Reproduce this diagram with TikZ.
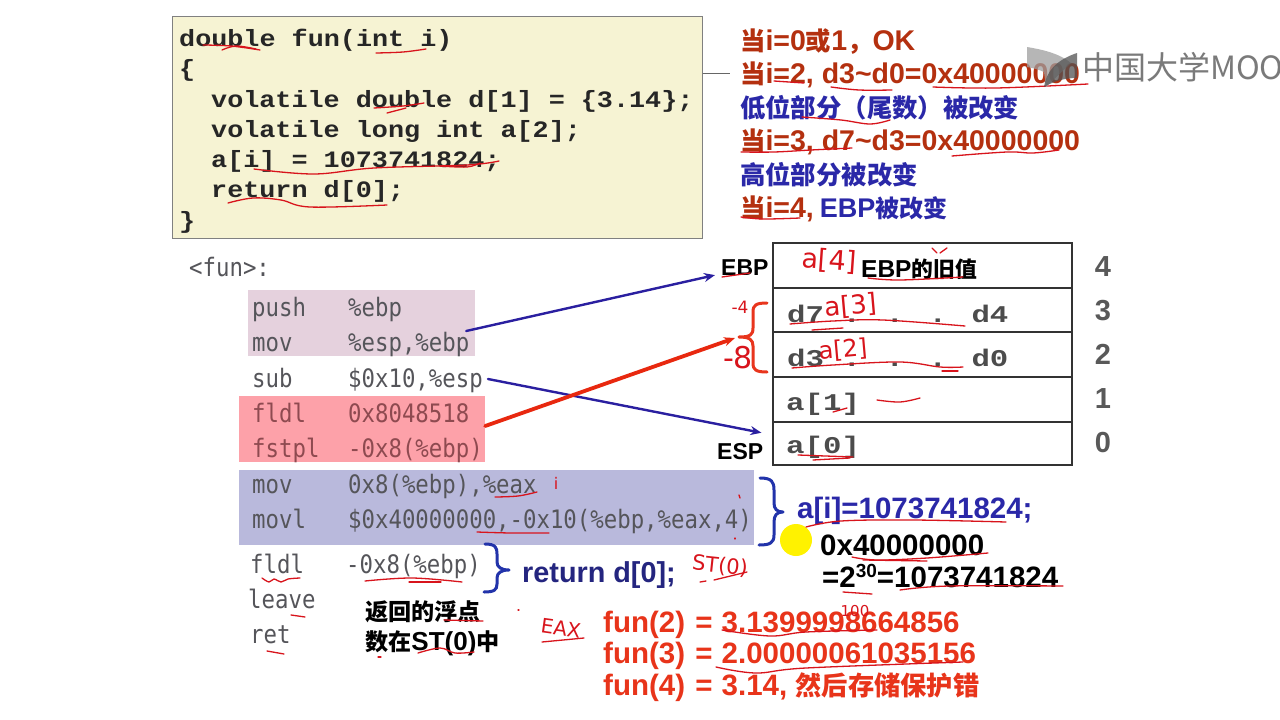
\documentclass[tikz,border=0pt]{standalone}
\usepackage{fontspec}
\usetikzlibrary{calc,arrows.meta}
\setmainfont{Liberation Sans}
\newfontfamily\cjk[Scale=0.89]{Noto Sans CJK SC}
\newfontfamily\logofont{Noto Sans CJK SC}
\newfontfamily\codefont[FakeStretch=1.14]{Liberation Mono}
\newfontfamily\cellfont[FakeStretch=1.28]{Liberation Mono}
\newfontfamily\asmfont[FakeStretch=0.88]{DejaVu Sans Mono}
\newfontfamily\handfont{DejaVu Sans}
\newcommand\fs[1]{\fontsize{#1}{#1}\selectfont}
\newcommand\C[1]{{\cjk #1}}
\newcommand\hwline[1]{\draw[hw] plot[smooth,tension=0.6] coordinates {#1};}
\definecolor{ink}{HTML}{D8141C}
\definecolor{dkred}{HTML}{B4300F}
\definecolor{dkblue}{HTML}{2A28A8}
\definecolor{navy}{HTML}{24257F}
\definecolor{brred}{HTML}{E8341A}
\definecolor{asmgray}{HTML}{55555A}
\definecolor{asmredtext}{HTML}{8E4A50}
\definecolor{codefill}{HTML}{F6F3D3}
\definecolor{boxpink}{HTML}{E5D1DD}
\definecolor{boxred}{HTML}{FDA1A9}
\definecolor{boxblue}{HTML}{B9B9DC}
\definecolor{arrowblue}{HTML}{2A1FA0}
\definecolor{arrowred}{HTML}{E8280F}
\definecolor{bracered}{HTML}{E8351D}
\definecolor{braceblue}{HTML}{2233AA}
\tikzset{
  txt/.style={inner sep=0pt,anchor=base west},
  codeline/.style={txt,font=\codefont\bfseries\fs{23.5},text=black!85},
  asm/.style={txt,font=\asmfont\fs{25.4},text=asmgray},
  asmred/.style={asm,text=asmredtext},
  cell/.style={txt,font=\cellfont\bfseries\fs{24},text=black!70},
  rownum/.style={inner sep=0pt,anchor=base,font=\bfseries\fs{29},text=black!65},
  redline/.style={txt,font=\bfseries\fs{28.5},text=dkred},
  blueline/.style={txt,font=\bfseries\fs{28.5},text=dkblue},
  funline/.style={txt,font=\bfseries\fs{29.5},text=brred},
  blackline/.style={txt,font=\bfseries\fs{29.5},text=black},
  label/.style={txt,font=\bfseries\fs{23},text=black},
  note/.style={inner sep=0pt,font=\handfont\fs{24},text=ink},
  stackrow/.style={draw=black!80,line width=2.4pt,minimum width=299pt,inner sep=0pt},
  hw/.style={draw=ink,line width=1.3pt,line cap=round,line join=round},
  brace/.style={line width=3pt,line cap=round,line join=round},
  conn/.style={-{Stealth[length=11pt,width=9pt]},line cap=round},
}
\begin{document}
\begin{tikzpicture}[x=1pt,y=-1pt]
\useasboundingbox (0,0) rectangle (1280,720);
\fill[white] (0,0) rectangle (1280,720);

% code box
\node[draw=black!50,fill=codefill,line width=1pt,minimum width=530pt,minimum height=222pt,inner sep=0pt] (codebox) at (437,127) {};
\coordinate (codetick) at (730,73);
\draw[black!60,line width=1pt] (codebox.east |- codetick) -- (codetick);
\node[codeline] (c1) at (179,46) {double fun(int i)};
\node[codeline] (c2) at (179,76.5) {\{};
\node[codeline] (c3) at (211,107) {volatile double d[1] = \{3.14\};};
\node[codeline] (c4) at (211,137) {volatile long int a[2];};
\node[codeline] (c5) at (211,167) {a[i] = 1073741824;};
\node[codeline] (c6) at (211,197.5) {return d[0];};
\node[codeline] (c7) at (179,228) {\}};

% right notes
\node[redline] (n1) at (740,50) {\C{当}i=0\C{或}1\C{，}OK};
\node[redline] (n2) at (740,83) {\C{当}i=2, d3\textasciitilde d0=0x40000000};
\node[blueline] (n3) at (740,117) {\C{低位部分（尾数）被改变}};
\node[redline] (n4) at (740,150) {\C{当}i=3, d7\textasciitilde d3=0x40000000};
\node[blueline] (n5) at (740,184) {\C{高位部分被改变}};
\node[redline] (n6) at (740,217) {\C{当}i=4,\hspace{-2pt} {\fs{27}\textcolor{dkblue}{EBP\C{被改变}}}};

% assembly boxes
\node[fill=boxpink,minimum width=227pt,minimum height=66pt,inner sep=0pt] (pinkbox) at (361.5,323) {};
\node[fill=boxred,minimum width=246pt,minimum height=66pt,inner sep=0pt] (redbox) at (362,429) {};
\node[fill=boxblue,minimum width=515pt,minimum height=75pt,inner sep=0pt] (bluebox) at (496.5,507.5) {};

% assembly
\node[asm] (fun) at (189,276) {<fun>:};
\node[asm] (a1) at (252,316) {push};  \node[asm] (a1b) at (348,316) {\%ebp};
\node[asm] (a2) at (252,351.5) {mov};   \node[asm] (a2b) at (348,351.5) {\%esp,\%ebp};
\node[asm] (a3) at (252,387) {sub};   \node[asm] (a3b) at (348,387) {\$0x10,\%esp};
\node[asmred] (a4) at (252,422) {fldl};  \node[asmred] (a4b) at (348,422) {0x8048518};
\node[asmred] (a5) at (252,457) {fstpl}; \node[asmred] (a5b) at (348,457) {-0x8(\%ebp)};
\node[asm] (a6) at (252,493) {mov};   \node[asm] (a6b) at (348,493) {0x8(\%ebp),\%eax};
\node[asm] (a7) at (252,528) {movl};  \node[asm] (a7b) at (348,528) {\$0x40000000,-0x10(\%ebp,\%eax,4)};
\node[asm] (a8) at (250,573) {fldl};  \node[asm] (a8b) at (346,573) {-0x8(\%ebp)};
\node[asm] (a9) at (248,608) {leave};
\node[asm] (a10) at (250,643) {ret};

% stack table
\node[stackrow,minimum height=45pt] (row4) at (922.5,265.5) {};
\node[stackrow,minimum height=44pt] (row3) at (922.5,310) {};
\node[stackrow,minimum height=45pt] (row2) at (922.5,354.5) {};
\node[stackrow,minimum height=45pt] (row1) at (922.5,399.5) {};
\node[stackrow,minimum height=43pt] (row0) at (922.5,443.5) {};
\node[txt,font=\bfseries\fs{24.5},text=black] (oldebp) at (861,277) {EBP\C{的旧值}};
\node[cell] (d7) at (787,322) {d7 . . . d4};
\node[cell] (d3) at (787,366) {d3 . . . d0};
\node[cell] (a1c) at (786,410) {a[1]};
\node[cell] (a0c) at (786,453) {a[0]};
\node[rownum] (r4) at (1103,276) {4};
\node[rownum] (r3) at (1103,320) {3};
\node[rownum] (r2) at (1103,364) {2};
\node[rownum] (r1) at (1103,408) {1};
\node[rownum] (r0) at (1103,452) {0};
\node[label] (ebp) at (721,275) {EBP};
\node[label] (esp) at (717,459) {ESP};

% braces
\draw[brace,bracered] (767,303) .. controls (756,303) and (753,305) .. (753,312) -- (753,328) .. controls (753,335) and (750,337) .. (739,337) .. controls (750,337) and (753,340) .. (753,346) -- (753,363) .. controls (753,370) and (756,372) .. (767,372);
\draw[brace,braceblue] (760,478) .. controls (772,478) and (774,482) .. (774,490) -- (774,503) .. controls (774,509) and (777,512) .. (783,512) .. controls (777,512) and (774,515) .. (774,522) -- (774,535) .. controls (774,543) and (770,545) .. (759,545);
\draw[brace,braceblue] (485,544) .. controls (496,544) and (497,548) .. (497,554) -- (497,562) .. controls (497,567) and (501,570) .. (509,570) .. controls (501,570) and (497,573) .. (497,578) -- (497,584) .. controls (497,590) and (494,592) .. (484,592);
\coordinate (bracetip) at (735,338);

% connectors
\draw[conn,arrowblue,line width=2.4pt] ($(pinkbox.east)+(-9,8)$) -- ($(ebp.west)+(-6,8)$);
\draw[conn,arrowblue,line width=2.4pt] ($(a3b.east)+(5,-1)$) -- ($(esp.north east)+(-2,-10)$);
\draw[conn,arrowred,line width=3.8pt] ($(redbox.east)+(0,-3)$) -- (bracetip);

% lower texts
\node[blueline,font=\bfseries\fs{29.5}] (aieq) at (797,518) {a[i]=1073741824;};
\node[fill=yellow,circle,minimum size=32pt,inner sep=0pt] (pointer) at (796,540) {};
\node[blackline] (hex) at (820,555) {0x40000000};
\node[txt,font=\bfseries\fs{29.5},text=black] (pow) at (822,587) {=2\raisebox{10pt}{\fs{19}30}=1073741824};
\node[txt,font=\bfseries\fs{28.8},text=navy] (retd) at (522,582) {return d[0];};
\node[txt,font=\bfseries\fs{26},text=black] (st1) at (365,620) {\C{返回的浮点}};
\node[txt,font=\bfseries\fs{26},text=black] (st2) at (365,650) {\C{数在}ST(0)\C{中}};
\node[funline] (f2) at (603,632) {fun(2)\hspace{2pt} = \hspace{1pt}3.1399998664856};
\node[funline] (f3) at (603,663) {fun(3)\hspace{2pt} = \hspace{1pt}2.00000061035156};
\node[funline] (f4) at (603,695) {fun(4)\hspace{2pt} = \hspace{1pt}3.14, {\cjk\fs{29.5}然后存储保护错}};

% handwritten annotations
\node[note,rotate=-4,font=\handfont\fs{27}] (h4) at (829,261) {a[4]};
\node[note,rotate=5,font=\handfont\fs{26}] (h3) at (851,306) {a[3]};
\node[note,rotate=5,font=\handfont\fs{24}] (h2) at (843,350) {a[2]};
\node[note,font=\handfont\fs{17}] (hm4) at (740,307) {-4};
\node[note,font=\handfont\fs{30}] (hm8) at (738,358) {-8};
\node[note,font=\handfont\fs{16}] (hi) at (556,483) {i};
\node[note,rotate=-6,font=\handfont\fs{21}] (hst) at (720,566) {ST(0)};
\node[note,rotate=-8,font=\handfont\fs{20}] (heax) at (561,628) {EAX};
\node[note,font=\handfont\fs{15}] (h100) at (855,611) {100};

\hwline{(203,45)(231,46)(260,50)}
\hwline{(222,50)(236,46)(256,49)}
\hwline{(376,53)(403,52)(426,49)}
\hwline{(374,108)(403,106)(424,103)}
\hwline{(387,113)(406,108)}
\hwline{(254,169)(314,174)(374,168)(467,165)(499,161)}
\hwline{(440,166)(467,167)(480,163)}
\hwline{(228,203)(253,198)(281,200)(310,207)(387,205)}
\hwline{(774,81)(804,83)}
\hwline{(831,87)(859,90)(892,90)}
\hwline{(933,87)(996,88)(1088,84)}
\hwline{(802,117)(841,120)(870,124)(890,120)}
\hwline{(741,152)(774,152)(811,150)(852,148)}
\hwline{(952,156)(1007,152)(1033,153)(1059,150)}
\hwline{(741,217)(763,219)(800,218)}
\hwline{(868,278)(900,280)(963,277)}
\hwline{(932,248)(937,253)}
\hwline{(940,253)(947,248)}
\hwline{(790,324)(833,321)(883,320)(965,326)}
\hwline{(812,330)(843,328)}
\hwline{(792,368)(833,365)(900,362)(940,367)(963,367)}
\hwline{(942,371)(958,371)}
\hwline{(833,412)(847,408)}
\hwline{(877,400)(900,402)(920,398)}
\hwline{(798,455)(853,457)}
\hwline{(813,460)(850,458)}
\hwline{(722,277)(750,273)}
\hwline{(495,497)(518,496)(537,492)}
\hwline{(477,532)(511,533)(549,533)}
\hwline{(739,495)(740,498)}
\hwline{(735,538)(735,539)}
\hwline{(262,578)(269,582)(274,579)(281,582)(288,579)(300,578)}
\hwline{(365,581)(412,578)(462,582)}
\hwline{(409,582)(441,582)}
\hwline{(291,615)(305,617)}
\hwline{(267,651)(284,654)}
\hwline{(700,582)(706,581)}
\hwline{(714,580)(747,572)}
\hwline{(444,620)(483,621)}
\hwline{(418,653)(440,648)(455,653)(474,652)}
\hwline{(378,657)(381,657)}
\hwline{(518,610)(519,610)}
\hwline{(542,642)(584,638)}
\hwline{(722,630)(770,636)(806,632)(877,630)}
\hwline{(716,667)(756,673)(806,668)(963,662)}
\hwline{(806,527)(841,521)(913,520)(1006,522)}
\hwline{(852,557)(877,560)(927,558)(988,553)}
\hwline{(863,560)(927,561)}
\hwline{(843,592)(872,594)}
\hwline{(900,590)(949,586)(1063,586)}

% watermark
\begin{scope}
\clip (0,0) rectangle (1280,720);
\fill[black!38,opacity=.75] (1027,47) .. controls (1045,50) and (1060,54) .. (1071,63) -- (1046,87) -- (1044,72) .. controls (1040,70) and (1033,68) .. (1027,67) -- cycle;
\fill[black!68,opacity=.75] (1044,87) .. controls (1046,72) and (1056,60) .. (1077,53) -- (1077,78) .. controls (1065,78) and (1054,81) .. (1044,87) -- cycle;
\node[txt,font=\logofont\fs{32},text=black!52] (logo) at (1082,79) {中国大学MOOC};
\end{scope}
\end{tikzpicture}
\end{document}
